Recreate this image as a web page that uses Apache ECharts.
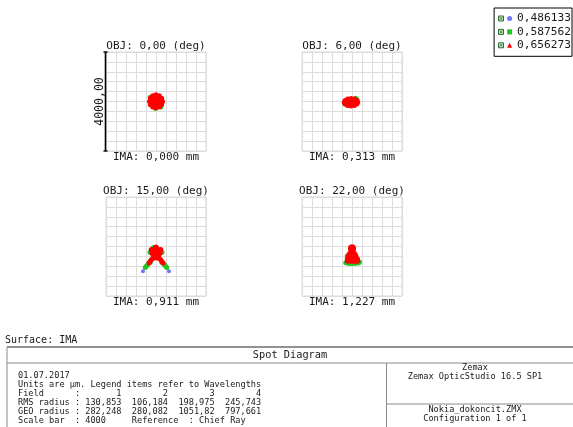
<!DOCTYPE html>
<html>
<head>
<meta charset="utf-8">
<script src="https://cdn.jsdelivr.net/npm/echarts@6/dist/echarts.min.js"></script>
<style>
html, body { margin: 0; padding: 0; background: #fff; }
#chart { width: 573px; height: 427px; }
</style>
</head>
<body>
<div id="chart"></div>
<script>
// Spot diagram, surface IMA — four field angles, three wavelengths
const fieldAngles = ['0,00', '6,00', '15,00', '22,00'];
const imageHeights = ['0,000', '0,313', '0,911', '1,227'];
const wavelengths = ['0,486133', '0,587562', '0,656273'];
const fieldNumbers = [1, 2, 3, 4];
const rmsRadius = ['130,853', '106,184', '198,975', '245,743'];
const geoRadius = ['282,248', '280,082', '1051,82', '797,661'];
const scaleBar = 4000;
const reportDate = '01.07.2017';

// Ray intercepts in µm relative to the chief ray (x, y)
const spotBlue1 = [[0, 0], [90, 90], [-90, -90], [60, -120], [-120, 60]];
const spotGreen1 = [[-230, 170], [190, -220], [-20, -285]];
const spotRed1 = [
  [0, 0], [130, 0], [65, 113], [-65, 113], [-130, 0], [-65, -113], [65, -113],
  [260, 0], [225, 130], [130, 230], [0, 270], [-130, 230], [-225, 130], [-260, 0],
  [-225, -130], [-130, -225], [0, -255], [130, -225], [225, -130]
];

const spotBlue2 = [[-40, -30], [50, 0], [-130, -60]];
const spotGreen2 = [[195, 95], [140, 130], [-280, -105]];
const spotRed2 = [
  [-40, -30], [95, -30], [-175, -30], [-40, 45], [-40, -105], [55, 20], [-135, 20],
  [55, -80], [-135, -80], [230, -30], [194, 45], [95, 100], [-40, 120], [-175, 100],
  [-274, 45], [-310, -30], [-274, -105], [-175, -160], [-40, -180], [95, -160], [194, -105]
];

const spotBlue3 = [[-520, -1000], [520, -1000], [0, -200]];
const spotGreen3 = [
  [-240, -230], [240, -230], [-100, -40], [-230, -640], [230, -640], [-330, -730],
  [330, -730], [-380, -790], [380, -790], [-430, -850], [430, -850]
];
const spotRed3 = [
  [0, -200], [100, -200], [-100, -200], [0, -100], [0, -300], [-80, -130], [80, -130],
  [-80, -280], [80, -280], [0, -20], [-30, -60], [30, -60], [-190, -120], [190, -120],
  [-160, -190], [160, -190], [-170, -260], [170, -260], [-120, -330], [120, -330],
  [0, -380], [-80, -420], [80, -420], [0, -460], [-130, -480], [130, -480],
  [-190, -540], [190, -540], [-240, -610], [240, -610], [-280, -670], [280, -670]
];

const spotBlue4 = [[0, -400], [0, -600], [-100, -300]];
const spotGreen4 = [
  [-250, -660], [-130, -690], [0, -690], [130, -690], [260, -670], [300, -630], [-190, -380]
];
const spotRed4 = [
  [0, -10], [-50, -30], [50, -30], [-60, -90], [60, -90], [0, -90], [-40, -150],
  [40, -150], [0, -200], [-30, -220], [30, -220], [-100, -280], [100, -280], [0, -290],
  [-140, -350], [150, -350], [-60, -350], [60, -350], [-150, -420], [160, -420], [0, -420],
  [-80, -420], [80, -420], [-190, -500], [220, -500], [-100, -500], [0, -500],
  [100, -500], [-190, -590], [230, -590], [-100, -600], [0, -600], [100, -600], [170, -600]
];

const spots = [
  [spotBlue1, spotGreen1, spotRed1],
  [spotBlue2, spotGreen2, spotRed2],
  [spotBlue3, spotGreen3, spotRed3],
  [spotBlue4, spotGreen4, spotRed4]
];

// ---- layout & style ----
const MONO = 'DejaVu Sans Mono';
const INK = '#1a1a1a';
const colors = ['#7373ff', '#22c422', '#ff0000'];
const symbolSizes = [4, 5, 5];
const legendIcons = ['circle', 'rect', 'triangle'];
const GRID_W = 100, GRID_H = 99;
const gridPos = [[106, 52], [302, 52], [106, 197], [302, 197]];
const half = scaleBar / 2;

const grids = gridPos.map(p => ({
  left: p[0], top: p[1], width: GRID_W, height: GRID_H,
  show: true, borderColor: '#dadada', borderWidth: 1
}));

const axisBase = i => ({
  type: 'value', gridIndex: i, min: -half, max: half, interval: scaleBar / 10,
  axisLine: { show: false }, axisTick: { show: false }, axisLabel: { show: false },
  splitLine: { show: true, lineStyle: { color: '#dcdcdc', width: 1 } }
});

const series = [];
spots.forEach((group, f) => {
  group.forEach((pts, w) => {
    series.push({
      type: 'scatter', name: wavelengths[w],
      xAxisIndex: f, yAxisIndex: f,
      data: pts, symbol: 'circle', symbolSize: symbolSizes[w],
      itemStyle: { color: colors[w], opacity: 1 },
      silent: true
    });
  });
});

const graphic = [];
const txt = (text, x, y, size, align, extra) => Object.assign({
  type: 'text', x: x, y: y, silent: true, z: 10,
  style: { text: text, fontFamily: MONO, fontSize: size, fill: INK,
           textAlign: align || 'left', textVerticalAlign: 'middle' }
}, extra || {});
const line = (x1, y1, x2, y2, color, w) => ({
  type: 'line', silent: true, z: 10, shape: { x1, y1, x2, y2 },
  style: { stroke: color, lineWidth: w }
});

// field captions
gridPos.forEach((p, i) => {
  const cx = p[0] + GRID_W / 2;
  graphic.push(txt('OBJ: ' + fieldAngles[i] + ' (deg)', cx, p[1] - 6, 11, 'center'));
  graphic.push(txt('IMA: ' + imageHeights[i] + ' mm', cx, p[1] + GRID_H + 6, 11, 'center'));
});

// scale bar beside the first field
const sbx = gridPos[0][0] - 0.5, sbTop = gridPos[0][1], sbBot = gridPos[0][1] + GRID_H;
graphic.push(line(sbx, sbTop, sbx, sbBot, '#000', 1.6));
graphic.push(line(sbx - 2, sbTop, sbx + 2, sbTop, '#000', 1.4));
graphic.push(line(sbx - 2, sbBot, sbx + 2, sbBot, '#000', 1.4));
graphic.push(txt(scaleBar.toFixed(2).replace('.', ','), sbx - 5.5, (sbTop + sbBot) / 2, 11.5, 'center',
  { rotation: Math.PI / 2 }));

// legend check boxes
const LEG_TOP = 8, LEG_PAD_T = 5, LEG_ROW = 11, LEG_GAP = 2.4;
wavelengths.forEach((w, i) => {
  const cy = LEG_TOP + LEG_PAD_T + i * (LEG_ROW + LEG_GAP) + LEG_ROW / 2;
  graphic.push({ type: 'rect', silent: true, z: 10, shape: { x: 498.5, y: cy - 2.5, width: 5, height: 5 },
    style: { fill: '#cfe6cf', stroke: '#2f6f2f', lineWidth: 1 } });
  graphic.push(line(499.5, cy - 1.5, 502.5, cy + 1.5, '#2f6f2f', 0.8));
  graphic.push(line(502.5, cy - 1.5, 499.5, cy + 1.5, '#2f6f2f', 0.8));
});

// report block
graphic.push(txt('Surface: IMA', 5, 340, 10));
graphic.push(line(7, 347, 580, 347, '#6e6e6e', 1.5));
graphic.push(line(7, 347, 7, 430, '#8a8a8a', 1));
graphic.push(line(7, 363, 580, 363, '#8a8a8a', 1));
graphic.push(line(386.5, 363, 386.5, 430, '#8a8a8a', 1));
graphic.push(line(386.5, 404, 580, 404, '#8a8a8a', 1));
graphic.push(txt('Spot Diagram', 290, 355, 10.3, 'center'));

const pad = (s, n) => String(s).padStart(n);
const leftLines = [
  reportDate,
  'Units are µm. Legend items refer to Wavelengths',
  'Field      : ' + fieldNumbers.map(n => pad(n, 7)).join('  '),
  'RMS radius : ' + rmsRadius.map(v => pad(v, 7)).join('  '),
  'GEO radius : ' + geoRadius.map(v => pad(v, 7)).join('  '),
  'Scale bar  : ' + scaleBar + '     Reference  : Chief Ray'
];
leftLines.forEach((s, i) => graphic.push(txt(s, 18, 376 + i * 9, 8.6)));

graphic.push(txt('Zemax', 475, 368, 8.6, 'center'));
graphic.push(txt('Zemax OpticStudio 16.5 SP1', 475, 377, 8.6, 'center'));
graphic.push(txt('Nokia_dokoncit.ZMX', 475, 410, 8.6, 'center'));
graphic.push(txt('Configuration 1 of 1', 475, 419, 8.6, 'center'));

const chart = echarts.init(document.getElementById('chart'), null, { renderer: 'canvas' });
chart.setOption({
  backgroundColor: '#ffffff',
  animation: false,
  color: colors,
  grid: grids,
  xAxis: gridPos.map((p, i) => axisBase(i)),
  yAxis: gridPos.map((p, i) => axisBase(i)),
  legend: {
    orient: 'vertical', right: 1, top: LEG_TOP,
    padding: [LEG_PAD_T, 1, LEG_PAD_T + 0.5, 13],
    itemWidth: 5, itemHeight: 5, itemGap: LEG_GAP, itemTextGap: 1,
    borderColor: '#000', borderWidth: 1, backgroundColor: 'transparent',
    selectedMode: false,
    textStyle: { fontFamily: MONO, fontSize: 11.2, color: INK, lineHeight: LEG_ROW },
    data: wavelengths.map((w, i) => ({ name: w, icon: legendIcons[i] }))
  },
  series: series,
  graphic: graphic
});
</script>
</body>
</html>
